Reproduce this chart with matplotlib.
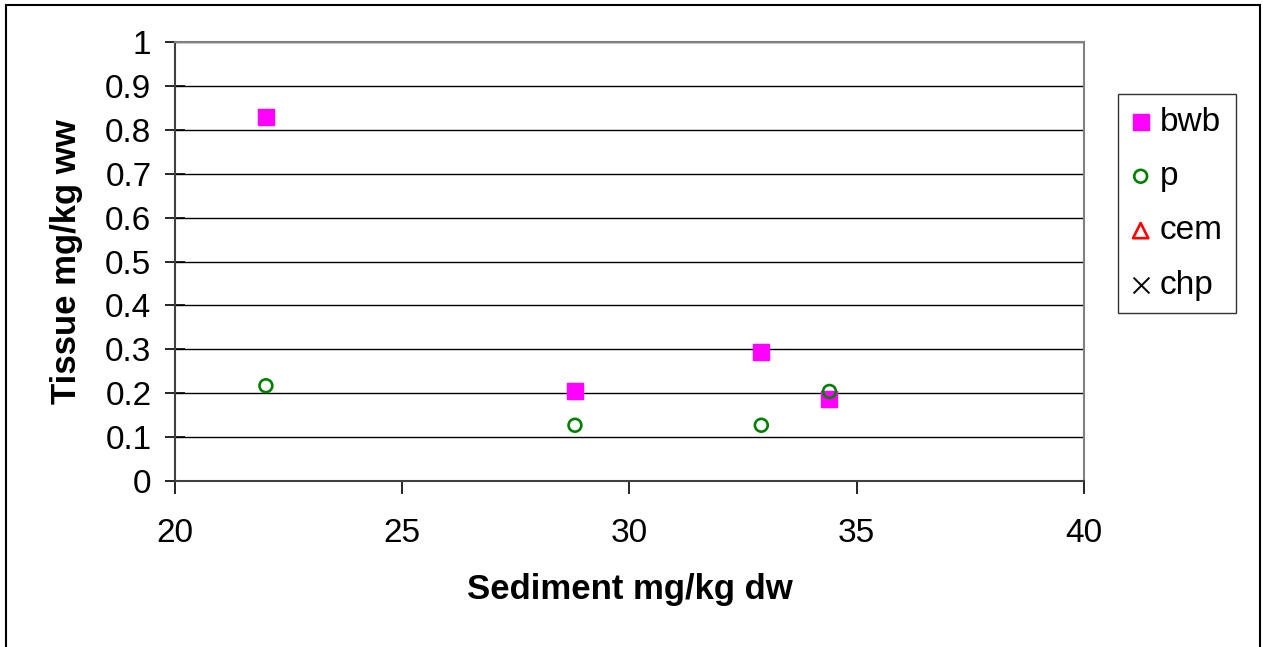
import matplotlib.pyplot as plt
from matplotlib.patches import Rectangle

plt.rcParams['font.family'] = ['Liberation Sans', 'DejaVu Sans']

# sediment (x) vs tissue (y) for each species
bwb_x = [22.0, 28.8, 32.9, 34.4]
bwb_y = [0.83, 0.204, 0.294, 0.186]
p_x = [22.0, 28.8, 32.9, 34.4]
p_y = [0.217, 0.127, 0.127, 0.204]
cem_x = []
cem_y = []
chp_x = []
chp_y = []

W, H = 1263, 647
fig = plt.figure(figsize=(W / 100, H / 100), dpi=100)
ax = fig.add_axes([175 / W, (H - 481) / H, (1084 - 175) / W, (481 - 42) / H])

ax.scatter(bwb_x, bwb_y, marker='s', s=130, color='#ff00ff', label='bwb', zorder=3)
ax.scatter(p_x, p_y, marker='o', s=85, facecolors='none', edgecolors='green',
           linewidths=1.9, label='p', zorder=3)
ax.scatter(cem_x, cem_y, marker='^', s=120, facecolors='none', edgecolors='red',
           linewidths=1.9, label='cem', zorder=3)
ax.scatter(chp_x, chp_y, marker='x', s=130, color='black', linewidths=1.4,
           label='chp', zorder=3)

ax.set_xlim(20, 40)
ax.set_ylim(0, 1)
ax.set_xticks([20, 25, 30, 35, 40])
ax.set_yticks([i / 10 for i in range(11)])
ax.set_yticklabels(['0', '0.1', '0.2', '0.3', '0.4', '0.5', '0.6', '0.7', '0.8',
                    '0.9', '1'])
ax.yaxis.grid(True, color='black', linewidth=1)
ax.set_axisbelow(True)

for s in ['top', 'right']:
    ax.spines[s].set_color('#808080')
    ax.spines[s].set_linewidth(1.5)
for s in ['left', 'bottom']:
    ax.spines[s].set_color('#404040')
    ax.spines[s].set_linewidth(1.5)

ax.tick_params(axis='y', direction='inout', length=14, width=1.2,
               labelsize=24, pad=10)
ax.tick_params(axis='x', direction='out', length=9, width=1.2,
               labelsize=24, pad=18)

ax.set_xlabel('Sediment mg/kg dw', fontsize=25, fontweight='bold', labelpad=17)
ax.set_ylabel('Tissue mg/kg ww', fontsize=25, fontweight='bold', labelpad=16)

leg = fig.legend(loc='upper left', bbox_to_anchor=(1118 / W, 1 - 94 / H),
                 fontsize=24, frameon=True, fancybox=False, edgecolor='black',
                 handlelength=0.6, handletextpad=0.28, labelspacing=0.7,
                 borderpad=0.38, borderaxespad=0)
leg.get_frame().set_linewidth(1)

fig.patches.append(Rectangle((6 / W, -0.01), (1260 - 6) / W, 1 - 5 / H + 0.01,
                             transform=fig.transFigure, fill=False,
                             edgecolor='black', linewidth=1.5))

fig.savefig('out.png', dpi=100)
